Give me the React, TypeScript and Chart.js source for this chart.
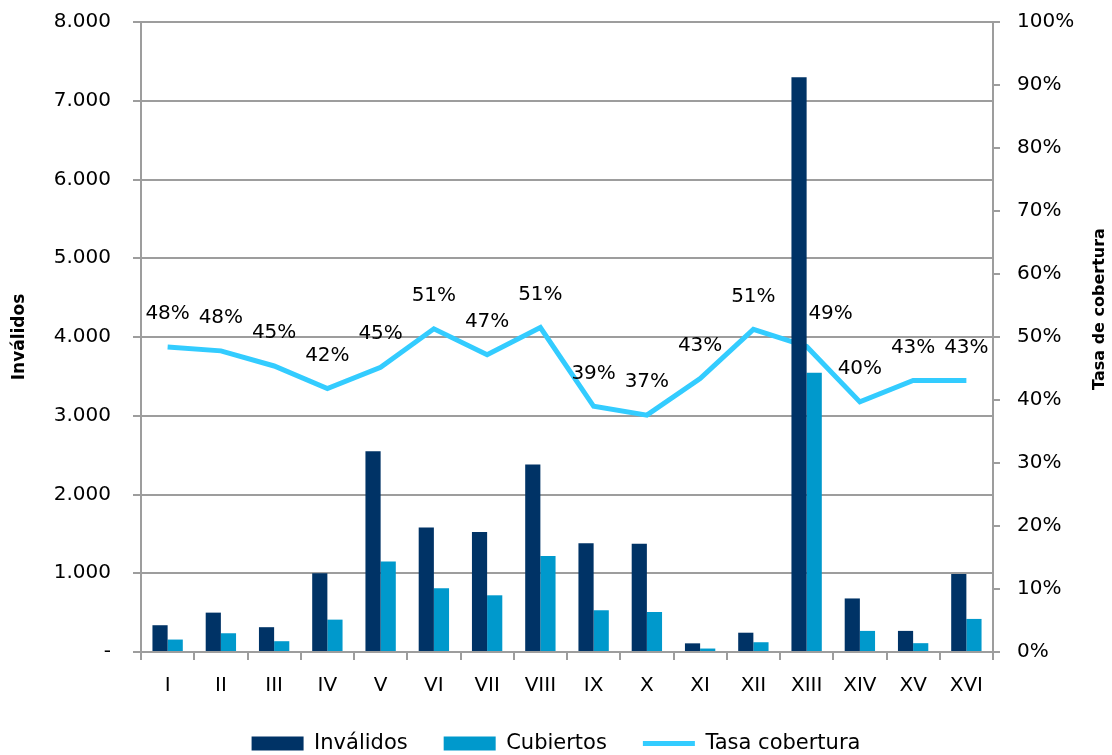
import React, { useEffect, useRef } from "react";
import { Chart, registerables } from "chart.js";

Chart.register(...registerables);

const categories = ["I", "II", "III", "IV", "V", "VI", "VII", "VIII", "IX", "X", "XI", "XII", "XIII", "XIV", "XV", "XVI"];
const invalidos = [340, 500, 315, 1000, 2550, 1580, 1525, 2380, 1380, 1375, 110, 245, 7300, 680, 268, 990];
const cubiertos = [158, 238, 137, 411, 1148, 808, 720, 1220, 530, 508, 44, 124, 3545, 268, 112, 420];
const tasa = [0.484, 0.478, 0.454, 0.418, 0.452, 0.513, 0.472, 0.515, 0.39, 0.376, 0.434, 0.512, 0.485, 0.397, 0.431, 0.431];
const tasaLabels = ["48%", "48%", "45%", "42%", "45%", "51%", "47%", "51%", "39%", "37%", "43%", "51%", "49%", "40%", "43%", "43%"];
const rightTitle = "Tasa de cobertura";

const FONT = "'DejaVu Sans', sans-serif";
const GRID = "#9d9d9d";

const labelPlugin = {
  id: "tasaLabels",
  afterDatasetsDraw(chart: any) {
    const meta = chart.getDatasetMeta(2);
    const ctx = chart.ctx;
    const shiftX: Record<number, number> = { 12: 24 };
    ctx.save();
    ctx.font = `20px ${FONT}`;
    ctx.fillStyle = "#000";
    ctx.textAlign = "center";
    ctx.textBaseline = "middle";
    meta.data.forEach((pt: any, i: number) => {
      ctx.fillText(tasaLabels[i], pt.x + (shiftX[i] || 0), pt.y - 33);
    });
    ctx.restore();
  },
};

const rightTitlePlugin = {
  id: "rightTitle",
  afterDraw(chart: any) {
    const s = chart.scales.y1;
    const ctx = chart.ctx;
    ctx.save();
    ctx.translate(s.right - 12, (s.top + s.bottom) / 2 - 28);
    ctx.rotate(-Math.PI / 2);
    ctx.font = `bold 16px ${FONT}`;
    ctx.fillStyle = "#000";
    ctx.textAlign = "center";
    ctx.textBaseline = "middle";
    ctx.fillText(rightTitle, 0, 0);
    ctx.restore();
  },
};

const fixY = (w: number) => (s: any) => {
  s.width = w;
  s.paddingTop = 0;
  s.paddingBottom = 0;
};

export default function App() {
  const ref = useRef<HTMLCanvasElement | null>(null);
  useEffect(() => {
    document.body.style.margin = "0";
    document.body.style.overflow = "hidden";
    document.documentElement.style.overflow = "hidden";
    const chart = new Chart(ref.current!, {
      type: "bar",
      data: {
        labels: categories,
        datasets: [
          {
            type: "bar",
            label: "Inválidos",
            data: invalidos,
            backgroundColor: "#003366",
            yAxisID: "y",
            categoryPercentage: 0.57,
            barPercentage: 1,
            pointStyle: "rect",
          } as any,
          {
            type: "bar",
            label: "Cubiertos",
            data: cubiertos,
            backgroundColor: "#0099CC",
            yAxisID: "y",
            categoryPercentage: 0.57,
            barPercentage: 1,
            pointStyle: "rect",
          } as any,
          {
            type: "line",
            label: "Tasa cobertura",
            data: tasa,
            borderColor: "#33CCFF",
            backgroundColor: "#33CCFF",
            borderWidth: 5,
            pointRadius: 0,
            pointStyle: "line",
            tension: 0,
            yAxisID: "y1",
          } as any,
        ],
      },
      options: {
        animation: false,
        responsive: false,
        layout: { padding: { top: 22, left: 0, right: 0, bottom: 0 } },
        plugins: {
          tooltip: { enabled: false },
          legend: {
            position: "bottom",
            labels: {
              usePointStyle: true,
              pointStyleWidth: 52,
              boxHeight: 14,
              padding: 36,
              color: "#000",
              font: { family: FONT, size: 21 },
            },
          },
        },
        scales: {
          x: {
            offset: true,
            grid: {
              offset: true,
              drawOnChartArea: false,
              drawTicks: true,
              tickLength: 8,
              color: GRID,
              lineWidth: 2,
            },
            border: { color: GRID, width: 2 },
            ticks: { color: "#000", font: { family: FONT, size: 20 }, padding: 14 },
            afterFit: (s: any) => { s.height = 45; },
          },
          y: {
            position: "left",
            min: 0,
            max: 8000,
            ticks: {
              stepSize: 1000,
              color: "#000",
              padding: 22,
              font: { family: FONT, size: 20 },
              callback: (v: any) => {
                const n = Number(v);
                if (n === 0) return "-";
                return `${Math.floor(n / 1000)}.${String(n % 1000).padStart(3, "0")}`;
              },
            },
            grid: { color: GRID, lineWidth: 2, tickLength: 8 },
            border: { color: GRID, width: 2 },
            title: {
              display: true,
              text: "Inválidos",
              color: "#000",
              font: { family: FONT, size: 17, weight: "bold" },
              padding: { top: 9, bottom: 0 },
            },
            afterFit: fixY(141),
          },
          y1: {
            position: "right",
            min: 0,
            max: 1,
            ticks: {
              stepSize: 0.1,
              color: "#000",
              padding: 17,
              font: { family: FONT, size: 20 },
              callback: (v: any) => `${Math.round(Number(v) * 100)}%`,
            },
            grid: { drawOnChartArea: false, color: GRID, lineWidth: 2, tickLength: 7 },
            border: { color: GRID, width: 2 },
            afterFit: fixY(119),
          },
        },
      },
      plugins: [labelPlugin, rightTitlePlugin],
    });
    return () => chart.destroy();
  }, []);
  return <canvas ref={ref} width={1112} height={764} style={{ display: "block" }} />;
}
